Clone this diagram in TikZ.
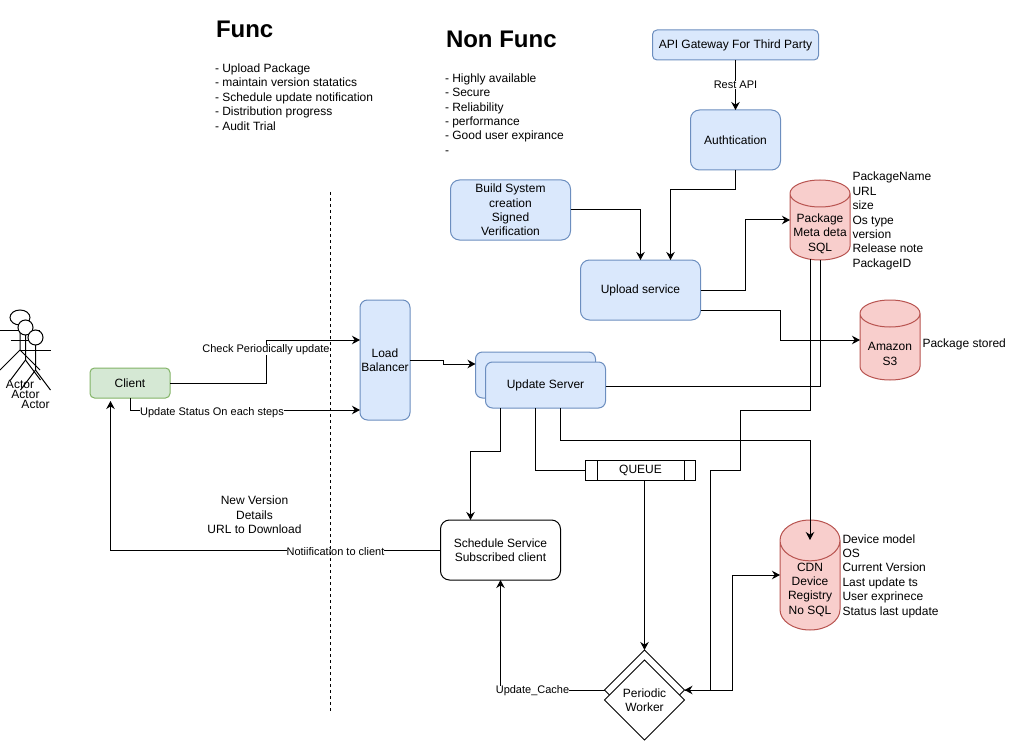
\documentclass[tikz,border=0pt]{standalone}
\usepackage{fontspec}
\setmainfont{Liberation Sans}
\usetikzlibrary{positioning,shapes.geometric,arrows.meta}
\definecolor{svcfill}{HTML}{DAE8FC}
\definecolor{svcline}{HTML}{6C8EBF}
\definecolor{dbfill}{HTML}{F8CECC}
\definecolor{dbline}{HTML}{B85450}
\definecolor{clientfill}{HTML}{D5E8D4}
\definecolor{clientline}{HTML}{82B366}
\tikzset{
  every node/.style={font=\fontsize{12}{14.4}\selectfont, align=center, inner sep=0pt, outer sep=0pt},
  svcbox/.style={draw=svcline, fill=svcfill, line width=1pt, rounded corners=9pt},
  plainbox/.style={draw=black, fill=white, line width=1pt, rounded corners=9pt},
  dbase/.style={shape=cylinder, shape border rotate=90, draw=dbline, fill=dbfill, line width=1pt, aspect=0.45, inner xsep=30pt, minimum width=60pt, anchor=shape center},
  worker/.style={shape=diamond, draw=black, fill=white, line width=1pt, minimum width=80pt, minimum height=80pt, aspect=1},
  conn/.style={draw, line width=1pt, -{Stealth[length=8pt,width=8.5pt]}},
  wire/.style={draw, line width=1pt},
  tag/.style={font=\fontsize{11}{13.2}\selectfont, fill=white},
  note/.style={align=left, anchor=west},
  title/.style={anchor=west, font=\fontsize{24}{29}\selectfont\bfseries}
}
\begin{document}
\begin{tikzpicture}[x=1pt,y=-1pt]
\useasboundingbox (0,0) rectangle (1021,741);
\foreach \cx/\ty/\hw/\nm in {20/310/20/a,25.5/320/15/b,35.5/330/15/c} {
  \node[shape=ellipse, draw, fill=white, line width=1pt, minimum width=\hw*1pt, minimum height=15pt] (head\nm) at (\cx,\ty+7.5) {};
  \draw[line width=1pt] (head\nm.south) -- (\cx,\ty+40) -- (\cx-\hw,\ty+60);
  \draw[line width=1pt] (\cx,\ty+40) -- (\cx+\hw,\ty+60);
  \draw[line width=1pt] (\cx-\hw,\ty+20) -- (\cx+\hw,\ty+20);
  \node (actor\nm) at (\cx,\ty+74) {Actor};
}
\node[title] (func) at (216,29) {Func};
\node[title] (nonfunc) at (446,39) {Non Func};
\node[note] (funclist) at (215,97) {- Upload Package\\- maintain version statatics\\- Schedule update notification\\- Distribution progress\\- Audit Trial};
\node[note] (nonfunclist) at (445,114) {- Highly available\\- Secure\\- Reliability\\- performance\\- Good user expirance\\-};
\node[draw=clientline, fill=clientfill, line width=1pt, rounded corners=4.5pt, minimum width=80pt, minimum height=30pt] (client) at (130,383) {Client};
\node[svcbox, rounded corners=7.5pt, minimum width=50pt, minimum height=120pt] (load) at (385,360) {Load\\Balancer};
\node[svcbox, rounded corners=7pt, minimum width=120pt, minimum height=46pt] (usback) at (535.5,375) {};
\node[svcbox, rounded corners=7pt, minimum width=120pt, minimum height=46pt, below right=-36pt and -110pt of usback] (us) {Update Server};
\node[svcbox, rounded corners=4.5pt, minimum width=166pt, minimum height=30pt] (api) at (735.5,45) {API Gateway For Third Party};
\node[svcbox, minimum width=90pt, minimum height=60pt, below=50pt of api] (auth) {Authtication};
\node[svcbox, minimum width=120pt, minimum height=60pt] (build) at (510.5,210) {Build System\\creation\\Signed\\Verification};
\node[svcbox, minimum width=120pt, minimum height=60pt] (upload) at (640.5,290) {Upload service};
\node[dbase, minimum height=80pt, label={center:Package\\Meta deta\\SQL}] (pkg) at (820,220) {};
\node[dbase, minimum height=80pt, label={center:Amazon\\S3}] (s3) at (890,340) {};
\node[dbase, aspect=0.68, minimum height=110pt, label={[yshift=6pt]center:CDN\\Device\\Registry\\No SQL}] (cdn) at (810,575) {};
\node[note] (pkgnote) at (852.5,221) {PackageName\\URL\\size\\Os type\\version\\Release note\\PackageID};
\node[note] (s3note) at (922.5,344) {Package stored};
\node[note] (cdnnote) at (842.5,576) {Device model\\OS\\Current Version\\Last update ts\\User exprinece\\Status last update};
\node[draw, line width=1pt, minimum width=110pt, minimum height=20pt] (queue) at (640.5,470) {QUEUE};
\draw[line width=1pt] ([xshift=11.5pt]queue.north west) -- ([xshift=11.5pt]queue.south west);
\draw[line width=1pt] ([xshift=-11.5pt]queue.north east) -- ([xshift=-11.5pt]queue.south east);
\node[plainbox, minimum width=120pt, minimum height=60pt] (sched) at (500.5,550) {Schedule Service\\Subscribed client};
\node[worker] (workerback) at (644.5,690) {};
\node[worker, below=-70pt of workerback] (periodic) {Periodic\\Worker};
\draw[conn] (client.east) -- (266,383) -- (266,340) -- ([yshift=20pt]load.west);
\draw[conn] (client.south) -- (130,410) -- ([yshift=-50pt]load.west);
\draw[conn] (load.east) -- (443,360) -- (443,364) -- ([yshift=11pt]usback.west);
\draw[conn] (api) -- (auth);
\draw[conn] (auth.south) -- (735.5,190) -- (670.5,190) -- ([xshift=30pt]upload.north);
\draw[conn] (build.east) -| (upload.north);
\draw[conn] (upload.east) -- (745.5,290) -- (745.5,220) -- (pkg.west |- pkg.shape center);
\draw[conn] ([yshift=-20pt]upload.east) -- (780.5,310) -- (780.5,340) -- (s3.west |- s3.shape center);
\draw[wire] ([yshift=-1pt]us.east) -| (pkg.south);
\draw[conn] ([xshift=-10pt,yshift=1pt]pkg.south) -- (810,410) -- (740,410) -- (740,470) -- (710.5,470) -- (710.5,690) -- (workerback.east);
\draw[conn] (workerback.east) -- (732.5,690) -- (732.5,575) -- (cdn.west |- cdn.shape center);
\draw[conn] ([xshift=15pt]us.south) -- (560.5,440) -- (810,440) -- (810,540);
\draw[wire] ([xshift=-10pt]us.south) -- (535.5,470) -- (queue.west);
\draw[conn] ([xshift=4pt]queue.south) -- (workerback.north);
\draw[conn] ([xshift=-45pt]us.south) -- (500.5,451) -- (470.5,451) -- ([xshift=-30pt]sched.north);
\draw[conn, shorten >=3pt] (sched.west) -- (110.5,550) -- ([xshift=-19.5pt]client.south);
\draw[conn] (workerback.west) -- (500.5,690) -- (sched.south);
\node[tag] (resttag) at (735.5,85) {Rest API};
\node[tag] (checktag) at (266,350) {Check Periodically update};
\node[tag] (statustag) at (212,413) {Update Status On each steps};
\node[tag] (notifytag) at (335.5,551.5) {Notiification to client};
\node[tag] (cachetag) at (532.5,691) {Update\_Cache};
\node (newversion) at (254.5,515) {New Version\\ Details\\URL to Download};
\coordinate (divtop) at (330.5,192);
\coordinate (divbot) at (330.5,711);
\draw[dashed, line width=1pt] (divtop) -- (divbot);
\end{tikzpicture}
\end{document}
